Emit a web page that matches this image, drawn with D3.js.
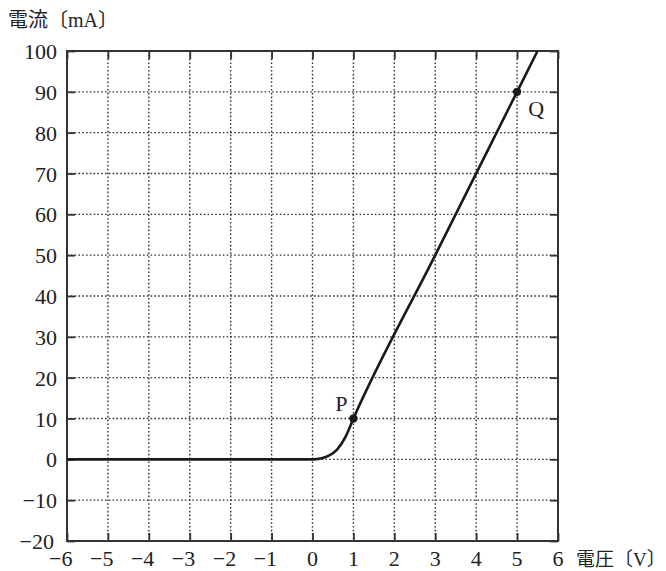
<!DOCTYPE html>
<html>
<head>
<meta charset="utf-8">
<script src="https://cdn.jsdelivr.net/npm/d3@7"></script>
<style>
  body { margin: 0; background: #fff; }
  svg { display: block; }
</style>
</head>
<body>
<svg id="chart" width="666" height="571"></svg>
<script>
// data: voltage (V) vs current (mA)
var voltage = [-6, -3, 0, 0.2, 0.4, 0.6, 0.8, 1, 3, 5, 5.5];
var current = [0, 0, 0, 0.2, 0.9, 2.4, 5.4, 10, 50, 90, 100];
var xTicks = [-6, -5, -4, -3, -2, -1, 0, 1, 2, 3, 4, 5, 6];
var yTicks = [-20, -10, 0, 10, 20, 30, 40, 50, 60, 70, 80, 90, 100];
var marked = [{name: "P", v: 1, i: 10}, {name: "Q", v: 5, i: 90}];

var serif = "'Liberation Serif', 'Times New Roman', 'DejaVu Serif', serif";
var mixed = "'Liberation Serif', 'Noto Sans CJK JP', serif";

var margin = {top: 51, right: 108, bottom: 30, left: 67},
    width = 666 - margin.left - margin.right,
    height = 571 - margin.top - margin.bottom;

var svg = d3.select("#chart");
var g = svg.append("g").attr("transform", "translate(" + margin.left + "," + margin.top + ")");

var x = d3.scaleLinear().domain([-6, 6]).range([0, width]);
var y = d3.scaleLinear().domain([-20, 100]).range([height, 0]);

/* GRID */
var grid = g.append("g").attr("stroke", "#333").attr("stroke-width", 1.4).attr("stroke-dasharray", "1.6,2.2");
grid.selectAll("line.vx")
    .data(xTicks.slice(1, -1))
    .enter().append("line")
    .attr("x1", function (d) { return x(d); })
    .attr("x2", function (d) { return x(d); })
    .attr("y1", 0).attr("y2", height);
grid.selectAll("line.hy")
    .data(yTicks.slice(1, -1))
    .enter().append("line")
    .attr("y1", function (d) { return y(d); })
    .attr("y2", function (d) { return y(d); })
    .attr("x1", 0).attr("x2", width);

/* TICK MARKS (inside, all four sides) */
function ticksOnly(axis, vals) {
    return axis.tickValues(vals).tickSize(-8).tickFormat("");
}
var tickAxes = [
    [ticksOnly(d3.axisBottom(x), xTicks), "translate(0," + height + ")"],
    [ticksOnly(d3.axisTop(x), xTicks), "translate(0,0)"],
    [ticksOnly(d3.axisLeft(y), yTicks), "translate(0,0)"],
    [ticksOnly(d3.axisRight(y), yTicks), "translate(" + width + ",0)"]
];
tickAxes.forEach(function (a) {
    var ax = g.append("g").attr("transform", a[1]).call(a[0]);
    ax.select(".domain").remove();
    ax.selectAll("line").attr("stroke", "#333").attr("stroke-width", 1.8);
});

/* FRAME */
g.append("rect")
    .attr("x", 0).attr("y", 0)
    .attr("width", width).attr("height", height)
    .attr("fill", "none").attr("stroke", "#333").attr("stroke-width", 2);

/* TICK LABELS */
function fmt(d) { return d < 0 ? "\u2212" + Math.abs(d) : String(d); }
g.selectAll("text.xl")
    .data(xTicks)
    .enter().append("text")
    .attr("font-family", serif).attr("font-size", 22).attr("fill", "#222")
    .attr("x", function (d) { return x(d) + 5.5; })
    .attr("y", height + 25)
    .attr("text-anchor", "end")
    .text(fmt);
g.selectAll("text.yl")
    .data(yTicks)
    .enter().append("text")
    .attr("font-family", serif).attr("font-size", 22).attr("fill", "#222")
    .attr("x", function (d) { return d === -20 ? -13 : -10; })
    .attr("y", function (d) { return y(d) + 8; })
    .attr("text-anchor", "end")
    .text(fmt);

/* AXIS TITLES */
svg.append("text").attr("font-family", mixed).attr("font-size", 20).attr("fill", "#222")
    .attr("x", 8).attr("y", 27).text("電流〔mA〕");
svg.append("text").attr("font-family", mixed).attr("font-size", 19).attr("fill", "#222")
    .attr("x", 576).attr("y", 566).text("電圧〔V〕");

/* CURVE */
var pts = voltage.map(function (v, k) { return [v, current[k]]; });
var line = d3.line()
    .x(function (d) { return x(d[0]); })
    .y(function (d) { return y(d[1]); })
    .curve(d3.curveMonotoneX);
g.append("path")
    .datum(pts)
    .attr("d", line)
    .attr("fill", "none")
    .attr("stroke", "#1a1a1a")
    .attr("stroke-width", 2.6);

/* MARKED POINTS */
g.selectAll("circle.pt")
    .data(marked)
    .enter().append("circle")
    .attr("cx", function (d) { return x(d.v); })
    .attr("cy", function (d) { return y(d.i); })
    .attr("r", 4.2)
    .attr("fill", "#1a1a1a");
g.selectAll("text.pt")
    .data(marked)
    .enter().append("text")
    .attr("font-family", serif).attr("font-size", 22).attr("fill", "#222")
    .attr("x", function (d) { return x(d.v) + (d.name === "P" ? -12 : 19); })
    .attr("y", function (d) { return y(d.i) + (d.name === "P" ? -8 : 24); })
    .attr("text-anchor", "middle")
    .text(function (d) { return d.name; });
</script>
</body>
</html>
